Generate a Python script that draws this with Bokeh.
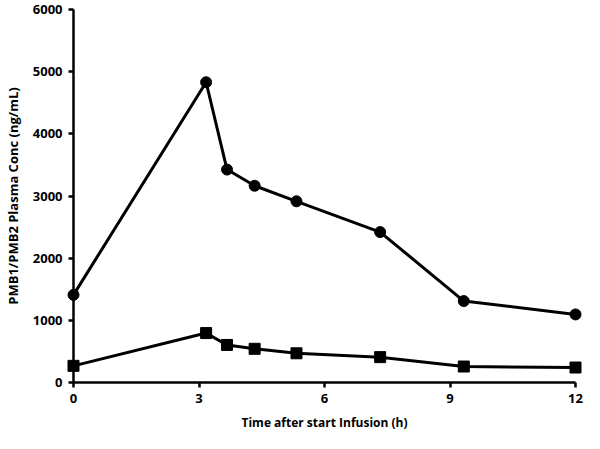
from bokeh.plotting import figure
from bokeh.models import Range1d, FixedTicker
from bokeh.embed import file_html
from bokeh.resources import INLINE

time_h = [0, 3.17, 3.67, 4.33, 5.33, 7.33, 9.33, 12]
pmb_high = [1410, 4830, 3425, 3165, 2915, 2420, 1310, 1095]
pmb_low = [268, 795, 604, 542, 470, 408, 257, 241]
x_ticks = [0, 3, 6, 9, 12]
y_ticks = [0, 1000, 2000, 3000, 4000, 5000, 6000]

FONT = "Open Sans"

p = figure(width=584, height=433, output_backend="svg", toolbar_location=None,
           x_range=Range1d(0, 12), y_range=Range1d(0, 6000),
           min_border_left=58, min_border_right=9, min_border_top=9, min_border_bottom=0)
p.outline_line_color = None
p.xgrid.grid_line_color = None
p.ygrid.grid_line_color = None

p.line(time_h, pmb_high, line_color="black", line_width=3)
p.scatter(time_h, pmb_high, marker="circle", size=11, fill_color="black", line_color="black", level="overlay")
p.line(time_h, pmb_low, line_color="black", line_width=3)
p.scatter(time_h, pmb_low, marker="square", size=11, fill_color="black", line_color="black", level="overlay")

for ax in (p.xaxis[0], p.yaxis[0]):
    ax.axis_line_width = 2.5
    ax.axis_line_color = "black"
    ax.major_tick_line_width = 2.5
    ax.major_tick_line_color = "black"
    ax.major_tick_out = 5
    ax.major_tick_in = 0
    ax.minor_tick_line_color = None
    ax.major_label_text_font = FONT
    ax.major_label_text_font_style = "bold"
    ax.major_label_text_font_size = "13px"
    ax.major_label_text_color = "black"
    ax.axis_label_text_font = FONT
    ax.axis_label_text_font_style = "bold"
    ax.axis_label_text_color = "black"

p.xaxis.ticker = FixedTicker(ticks=x_ticks)
p.yaxis.ticker = FixedTicker(ticks=y_ticks)
p.xaxis.major_label_standoff = 6
p.xaxis.axis_label = "Time after start Infusion (h)"
p.xaxis.axis_label_text_font_size = "12px"
p.xaxis.axis_label_standoff = 8
p.yaxis.axis_label = "PMB1/PMB2 Plasma Conc (ng/mL)"
p.yaxis.axis_label_text_font_size = "13px"
p.yaxis.major_label_standoff = 6
p.yaxis.axis_label_standoff = 8

open("out.html", "w").write(file_html(p, INLINE))
